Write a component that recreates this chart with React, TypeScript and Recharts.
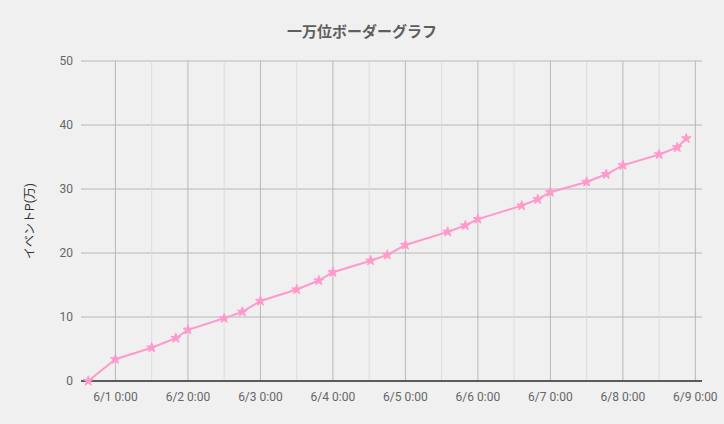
import { CartesianGrid, Line, LineChart, ReferenceLine, Symbols, XAxis, YAxis } from "recharts";

const times = [
  "5/31 15:00", "6/1 0:00", "6/1 12:00", "6/1 20:00", "6/2 0:00", "6/2 12:00",
  "6/2 18:00", "6/3 0:00", "6/3 12:00", "6/3 19:20", "6/4 0:00", "6/4 12:30",
  "6/4 18:00", "6/5 0:00", "6/5 14:00", "6/5 19:50", "6/6 0:00", "6/6 14:30",
  "6/6 19:50", "6/7 0:00", "6/7 12:00", "6/7 18:30", "6/8 0:00", "6/8 12:00",
  "6/8 18:00", "6/8 21:00",
];
const points = [
  0, 3.4, 5.2, 6.7, 8.0, 9.8, 10.8, 12.5, 14.3, 15.7, 17.0, 18.8, 19.7, 21.25,
  23.3, 24.3, 25.3, 27.4, 28.4, 29.5, 31.1, 32.3, 33.7, 35.4, 36.5, 37.9,
];
const majorTicks = [
  "6/1 0:00", "6/2 0:00", "6/3 0:00", "6/4 0:00", "6/5 0:00",
  "6/6 0:00", "6/7 0:00", "6/8 0:00", "6/9 0:00",
];
const minorTicks = [
  "6/1 12:00", "6/2 12:00", "6/3 12:00", "6/4 12:00",
  "6/5 12:00", "6/6 12:00", "6/7 12:00", "6/8 12:00",
];
const yTicks = [0, 10, 20, 30, 40, 50];

// "M/D H:MM" -> hours since 6/1 0:00
function toHours(s: string) {
  const [date, time] = s.split(" ");
  const [m, d] = date.split("/").map(Number);
  const [h, mm] = time.split(":").map(Number);
  const day = m === 5 ? d - 32 : d - 1;
  return day * 24 + h + mm / 60;
}

const data = times.map((t, i) => ({ t: toHours(t), v: points[i] }));
const tickHours = majorTicks.map(toHours);
const labelOf = (h: number) => majorTicks[tickHours.indexOf(h)] ?? "";

const FONT = "Roboto, 'Noto Sans CJK JP', sans-serif";
const PINK = "#ff99cc";

function Star(props: any) {
  const { cx, cy, index } = props;
  if (cx == null || cy == null) return null;
  return <Symbols key={index} cx={cx} cy={cy} type="star" size={30} fill={PINK} stroke={PINK} />;
}

export default function App() {
  return (
    <div style={{ position: "relative", width: 724, height: 424, background: "#f0f0f0", fontFamily: FONT }}>
      <style>{"body{margin:0}"}</style>
      <div
        style={{
          position: "absolute",
          top: 21,
          left: 0,
          width: 724,
          textAlign: "center",
          fontSize: 15,
          fontWeight: "bold",
          color: "#5e5e5e",
          fontFamily: "'Noto Sans CJK JP', sans-serif",
          lineHeight: "20px",
        }}
      >
        一万位ボーダーグラフ
      </div>
      <LineChart
        width={724}
        height={424}
        data={data}
        margin={{ top: 61, right: 22, bottom: 0, left: 21 }}
      >
        <CartesianGrid stroke="#b8b8b8" vertical={false} />
        {minorTicks.map((m) => (
          <ReferenceLine key={m} x={toHours(m)} stroke="#dcdcdc" strokeWidth={1} />
        ))}
        {tickHours.map((h) => (
          <ReferenceLine key={h} x={h} stroke="#b8b8b8" strokeWidth={1} />
        ))}
        <XAxis
          dataKey="t"
          type="number"
          domain={[-11.4, 194.2]}
          ticks={tickHours}
          tickFormatter={labelOf}
          interval={0}
          height={43}
          tickLine={false}
          tickMargin={5}
          axisLine={{ stroke: "#333333", strokeWidth: 1.5 }}
          tick={{ fill: "#666666", fontSize: 12, fontFamily: FONT }}
        />
        <YAxis
          type="number"
          domain={[0, 50]}
          ticks={yTicks}
          width={60}
          axisLine={false}
          tickLine={false}
          tick={{ fill: "#666666", fontSize: 12, fontFamily: FONT }}
          label={{
            content: ({ viewBox }: any) => {
              const x = viewBox.x + 9;
              const y = viewBox.y + viewBox.height / 2;
              return (
                <text
                  x={x}
                  y={y}
                  transform={`rotate(-90 ${x} ${y})`}
                  textAnchor="middle"
                  dominantBaseline="central"
                  fill="#333333"
                  fontSize={12}
                  fontFamily={FONT}
                >
                  イベントP(万)
                </text>
              );
            },
          }}
        />
        <Line
          dataKey="v"
          type="linear"
          stroke={PINK}
          strokeWidth={2}
          dot={Star}
          activeDot={false}
          isAnimationActive={false}
        />
      </LineChart>
    </div>
  );
}
